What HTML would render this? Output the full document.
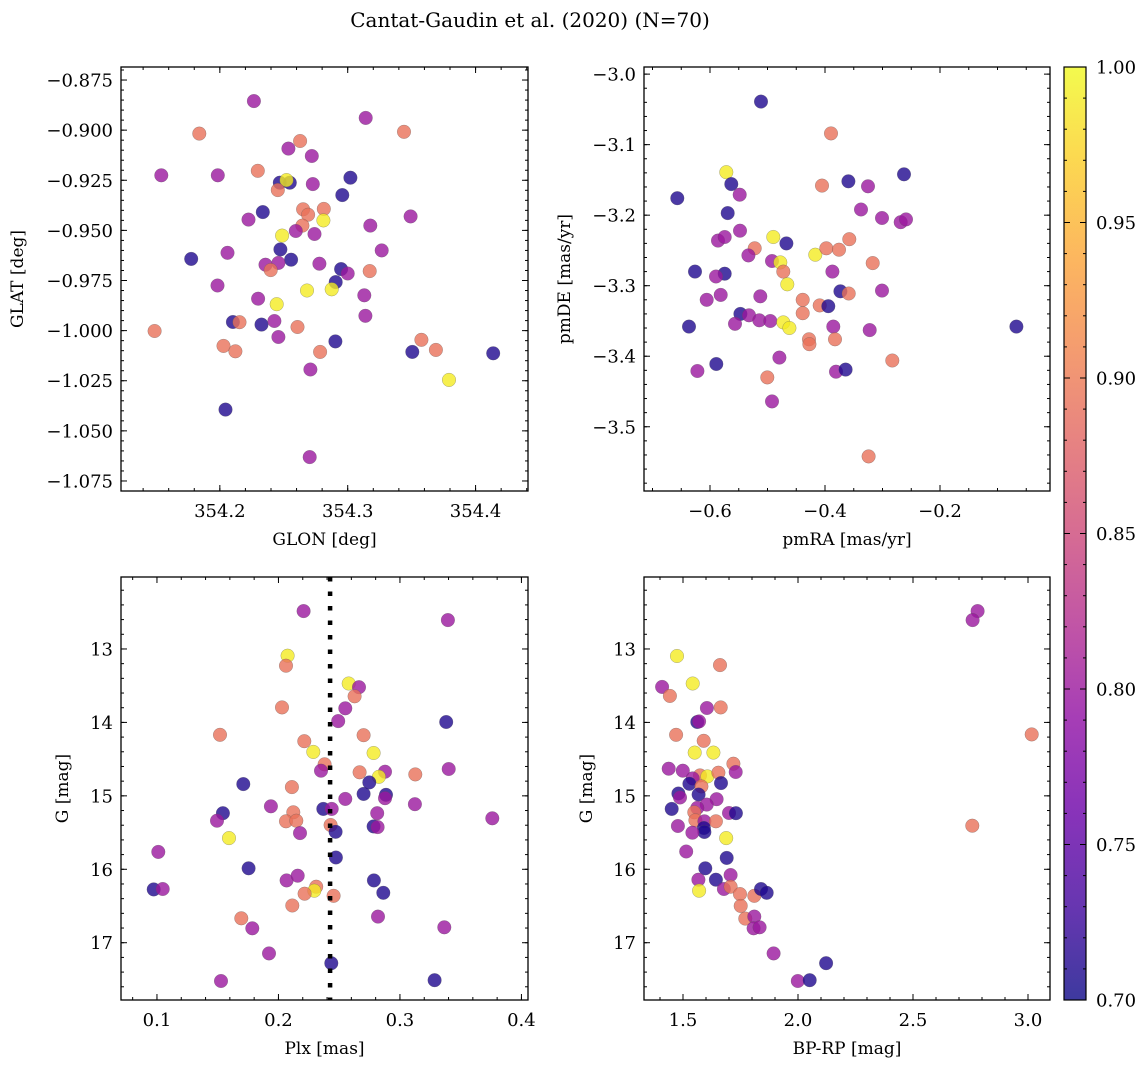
<!DOCTYPE html>
<html><head><meta charset="utf-8"><style>
html,body{margin:0;padding:0;background:#fff}
svg{display:block;font-family:"DejaVu Serif","Liberation Serif",serif}
</style></head><body>
<svg id="fig" width="1148" height="1067" viewBox="0 0 1148 1067" xmlns="http://www.w3.org/2000/svg">
<text x="530" y="27" font-size="20" text-anchor="middle">Cantat-Gaudin et al. (2020) (N=70)</text>
</svg>
<script>
// ---- data: membership probability classes ----
const N='0.71',P='0.80',S='0.892',Y='0.99';
// Panel 1: GLON / GLAT
const glon=[354.2266,354.3141,354.1839,354.344,354.2628,354.2536,354.2719,354.1542,354.1984,354.2297,354.2469,354.2547,354.2521,354.3021,354.2727,354.2453,354.2958,354.2336,354.2651,354.2813,354.2690,354.2224,354.281,354.3492,354.3177,354.2646,354.2594,354.274,354.2487,354.2474,354.3266,354.1776,354.206,354.2557,354.2357,354.2458,354.2779,354.2398,354.2948,354.3,354.3172,354.2906,354.1982,354.2682,354.2875,354.313,354.2299,354.2445,354.3138,354.2102,354.2154,354.2326,354.2427,354.149,354.2607,354.2458,354.2904,354.2029,354.2122,354.2784,354.3576,354.3505,354.369,354.4138,354.2708,354.3792,354.2044,354.2703];
const glat=[-0.8855,-0.8939,-0.9017,-0.9008,-0.9054,-0.9092,-0.9129,-0.9225,-0.9225,-0.9203,-0.9262,-0.9262,-0.9249,-0.9237,-0.9269,-0.9299,-0.9324,-0.9409,-0.9395,-0.9393,-0.9422,-0.9446,-0.945,-0.943,-0.9476,-0.9476,-0.9503,-0.9518,-0.9526,-0.9595,-0.96,-0.9642,-0.9612,-0.9646,-0.9671,-0.9662,-0.9666,-0.9698,-0.9693,-0.9715,-0.9703,-0.9758,-0.9775,-0.98,-0.9794,-0.9824,-0.9841,-0.9868,-0.9926,-0.9957,-0.9958,-0.997,-0.9952,-1.0002,-0.9982,-1.0032,-1.0054,-1.0076,-1.0103,-1.0106,-1.0046,-1.0106,-1.0096,-1.0113,-1.0194,-1.0246,-1.0394,-1.0631];
const probPos=[P,P,S,S,S,P,P,P,P,S,N,N,Y,N,P,S,N,N,S,S,S,P,Y,P,P,S,P,P,Y,N,P,N,P,N,P,P,P,S,N,P,S,N,P,Y,Y,P,P,Y,P,N,S,N,P,S,S,P,N,S,S,S,S,N,S,N,P,Y,N,P];
// Panel 2: proper motions
const pmra=[-0.5113,-0.3896,-0.5716,-0.5629,-0.6568,-0.5484,-0.4052,-0.3594,-0.3252,-0.2626,-0.5693,-0.3374,-0.3009,-0.2684,-0.2591,-0.5478,-0.5861,-0.5745,-0.4899,-0.4672,-0.5223,-0.5333,-0.4168,-0.3977,-0.3757,-0.3577,-0.3171,-0.6261,-0.4922,-0.4777,-0.4725,-0.3872,-0.5745,-0.5896,-0.4655,-0.6058,-0.5814,-0.5125,-0.4388,-0.3733,-0.3588,-0.3009,-0.4093,-0.3942,-0.4388,-0.5472,-0.5322,-0.5142,-0.4951,-0.5565,-0.6365,-0.4725,-0.462,-0.3855,-0.3223,-0.0672,-0.4278,-0.4272,-0.3826,-0.4794,-0.2829,-0.589,-0.622,-0.3809,-0.3641,-0.5003,-0.4922,-0.3241];
const pmde=[-3.039,-3.084,-3.139,-3.156,-3.176,-3.171,-3.158,-3.152,-3.159,-3.142,-3.197,-3.192,-3.204,-3.21,-3.206,-3.222,-3.236,-3.231,-3.231,-3.24,-3.247,-3.257,-3.256,-3.247,-3.249,-3.234,-3.268,-3.28,-3.265,-3.267,-3.28,-3.28,-3.283,-3.287,-3.298,-3.32,-3.313,-3.315,-3.32,-3.308,-3.311,-3.307,-3.328,-3.329,-3.339,-3.34,-3.342,-3.349,-3.35,-3.354,-3.358,-3.352,-3.36,-3.358,-3.363,-3.358,-3.376,-3.383,-3.376,-3.402,-3.406,-3.411,-3.421,-3.422,-3.419,-3.43,-3.464,-3.542];
const probPm=[N,S,Y,N,N,P,S,N,P,N,N,P,P,P,P,P,P,P,Y,N,S,P,Y,S,S,S,S,N,P,Y,S,P,N,P,Y,P,P,P,S,N,S,P,S,N,S,N,P,P,P,P,N,Y,Y,P,P,N,S,S,S,P,S,N,P,P,N,S,P,S];
// Panel 3: parallax / G
const plx=[0.2207,0.3395,0.2075,0.2062,0.2578,0.2663,0.2627,0.255,0.2029,0.2492,0.3381,0.1519,0.2701,0.2213,0.2287,0.2783,0.238,0.235,0.2668,0.2877,0.3401,0.3126,0.2827,0.2748,0.1711,0.2111,0.2701,0.2885,0.2877,0.255,0.1938,0.3123,0.2369,0.2438,0.1543,0.1494,0.2122,0.2062,0.2147,0.2813,0.376,0.2429,0.2783,0.2816,0.247,0.2177,0.1593,0.1011,0.2473,0.1754,0.2786,0.2067,0.2158,0.2311,0.2295,0.2215,0.2863,0.2454,0.0973,0.1047,0.2114,0.1694,0.2819,0.1785,0.3365,0.1922,0.2435,0.1527,0.3285];
const gPlx=[12.484,12.607,13.091,13.228,13.47,13.521,13.644,13.808,13.795,13.982,13.995,14.169,14.174,14.256,14.402,14.416,14.571,14.658,14.68,14.671,14.635,14.708,14.74,14.817,14.84,14.881,14.973,14.986,15.032,15.041,15.142,15.114,15.178,15.178,15.237,15.338,15.224,15.347,15.338,15.237,15.306,15.397,15.416,15.425,15.489,15.507,15.575,15.763,15.84,15.986,16.151,16.151,16.087,16.237,16.292,16.333,16.32,16.361,16.274,16.269,16.493,16.667,16.644,16.804,16.79,17.146,17.279,17.521,17.511];
const probPlx=[P,P,Y,S,Y,P,S,P,S,P,N,S,S,S,Y,Y,S,P,S,P,P,S,Y,N,N,S,N,N,P,P,P,P,N,P,N,P,S,S,S,P,P,S,N,P,N,P,Y,P,N,N,N,P,P,S,Y,S,N,S,N,P,S,S,P,P,P,P,N,P,N];
const plxLine=[0.2425];
// Panel 4: CMD
const bprp=[2.781,2.759,1.474,1.661,1.409,1.542,1.443,1.604,1.664,1.562,1.57,1.47,3.016,1.59,1.551,1.632,1.719,1.438,1.499,1.729,1.574,1.606,1.654,1.542,1.528,1.665,1.58,1.48,1.568,1.487,1.646,1.451,1.603,1.562,1.549,1.7,1.73,1.554,1.593,1.643,1.478,1.591,1.593,1.541,2.758,1.688,1.514,1.69,1.597,1.707,1.567,1.643,1.57,1.678,1.707,1.748,1.81,1.839,1.864,1.751,1.771,1.81,1.807,1.833,1.894,2.122,1.999,2.051];
const gCmd=[12.484,12.607,13.096,13.219,13.516,13.47,13.639,13.804,13.795,13.995,13.986,14.169,14.164,14.251,14.411,14.411,14.562,14.63,14.658,14.676,14.721,14.735,14.685,14.763,14.836,14.826,14.872,14.968,14.982,15.023,15.046,15.178,15.119,15.164,15.224,15.233,15.237,15.333,15.347,15.347,15.411,15.438,15.493,15.502,15.406,15.575,15.758,15.845,15.986,16.078,16.142,16.142,16.292,16.269,16.237,16.338,16.361,16.269,16.32,16.498,16.671,16.644,16.804,16.79,17.146,17.279,17.521,17.511];
const probCmd=[P,P,Y,S,P,Y,S,P,S,N,P,S,S,S,Y,Y,S,P,P,P,S,Y,S,P,N,N,S,N,N,P,P,N,P,P,S,P,N,S,P,S,P,N,N,P,S,Y,P,N,N,P,P,N,Y,P,S,S,S,N,N,S,S,P,P,P,P,N,P,N];
const cbTicks=[0.70,0.75,0.80,0.85,0.90,0.95,1.00];

// ---- rendering ----
const NS='http://www.w3.org/2000/svg';
const svg=document.getElementById('fig');
function mk(tag,attrs,parent){const e=document.createElementNS(NS,tag);for(const k in attrs)e.setAttribute(k,attrs[k]);(parent||svg).appendChild(e);return e;}
const stops=['#0d0887','#41049d','#6a00a8','#8f0da4','#b12a90','#cc4778','#e16462','#f2844b','#fca636','#fcce25','#f0f921'];
function hex(h){return [1,3,5].map(i=>parseInt(h.substr(i,2),16));}
function plasma(t){t=Math.max(0,Math.min(1,t));const f=t*10,i=Math.min(9,Math.floor(f)),u=f-i;const a=hex(stops[i]),b=hex(stops[i+1]);return 'rgb('+a.map((v,k)=>Math.round(v+(b[k]-v)*u)).join(',')+')';}
function fmt(v,d){return (v<0?'\u2212':'')+Math.abs(v).toFixed(d);}

function panel(cfg){
  const {name,x0,x1,y0,y1,xmin,xmax,ymin,ymax,invY,xs,ys,cs,xMaj,xMin,yMaj,yMin,xd,yd,xlabel,ylabel,ylabX}=cfg;
  const g=mk('g',{});
  
  
  const sx=v=>x0+(v-xmin)/(xmax-xmin)*(x1-x0);
  const sy=v=>invY? y0+(v-ymin)/(ymax-ymin)*(y1-y0) : y1-(v-ymin)/(ymax-ymin)*(y1-y0);
  const clip='clip-'+name;
  const cp=mk('clipPath',{id:clip},g);mk('rect',{x:x0,y:y0,width:x1-x0,height:y1-y0},cp);
  const pts=mk('g',{'clip-path':'url(#'+clip+')'},g);
  
  
  for(let i=0;i<xs.length;i++){
    const c=mk('circle',{cx:sx(xs[i]).toFixed(1),cy:sy(ys[i]).toFixed(1),r:6.8,fill:plasma((+cs[i]-0.7)/0.3),'fill-opacity':0.8,stroke:'#555','stroke-opacity':0.5,'stroke-width':0.5},pts);
    
    
  }
  if(cfg.vline){for(const v of cfg.vline){const l=mk('line',{x1:sx(v),x2:sx(v),y1:y0,y2:y1,stroke:'#000','stroke-width':4.5,'stroke-dasharray':'4.5,10'},pts);}}
  const fr=mk('rect',{x:x0,y:y0,width:x1-x0,height:y1-y0,fill:'none',stroke:'#000','stroke-width':1.3},g);
  
  
  const tk=mk('g',{stroke:'#000','stroke-width':1},g);
  const rng=(a,b,s)=>{const r=[];const st=Math.ceil(a/s-1e-6);for(let k=st;k*s<=b+1e-9;k++)r.push(k*s);return r;};
  rng(xmin,xmax,xMin).forEach(v=>{const x=sx(v);mk('line',{x1:x,x2:x,y1:y1,y2:y1-3},tk);mk('line',{x1:x,x2:x,y1:y0,y2:y0+3},tk);});
  rng(ymin,ymax,yMin).forEach(v=>{const y=sy(v);mk('line',{x1:x0,x2:x0+3,y1:y,y2:y},tk);mk('line',{x1:x1,x2:x1-3,y1:y,y2:y},tk);});
  rng(xmin,xmax,xMaj).forEach(v=>{const x=sx(v);mk('line',{x1:x,x2:x,y1:y1,y2:y1-6},tk);mk('line',{x1:x,x2:x,y1:y0,y2:y0+6},tk);
    const t=mk('text',{x:x,y:y1+26,'font-size':18,'text-anchor':'middle'},g);t.textContent=fmt(v,xd);});
  rng(ymin,ymax,yMaj).forEach(v=>{const y=sy(v);mk('line',{x1:x0,x2:x0+6,y1:y,y2:y},tk);mk('line',{x1:x1,x2:x1-6,y1:y,y2:y},tk);
    const t=mk('text',{x:x0-8,y:y+6.5,'font-size':18,'text-anchor':'end'},g);t.textContent=fmt(v,yd);});
  const xl=mk('text',{x:(x0+x1)/2,y:y1+54,'font-size':17,'text-anchor':'middle'},g);xl.textContent=xlabel;
  
  const yc=(y0+y1)/2;
  const yl=mk('text',{x:ylabX,y:yc,'font-size':17,'text-anchor':'middle',transform:'rotate(-90 '+ylabX+' '+yc+')'},g);yl.textContent=ylabel;
  
}
panel({name:'position-panel',x0:121,x1:528,y0:67,y1:491,xmin:354.1227,xmax:354.441,ymin:-1.0800,ymax:-0.8685,xs:glon,ys:glat,cs:probPos,xMaj:0.1,xMin:0.02,yMaj:0.025,yMin:0.005,xd:1,yd:3,xlabel:'GLON [deg]',ylabel:'GLAT [deg]',ylabX:23});
panel({name:'proper-motion-panel',x0:644,x1:1050,y0:67,y1:491,xmin:-0.7148,xmax:-0.0087,ymin:-3.5911,ymax:-2.9899,xs:pmra,ys:pmde,cs:probPm,xMaj:0.2,xMin:0.05,yMaj:0.1,yMin:0.02,xd:1,yd:1,xlabel:'pmRA [mas/yr]',ylabel:'pmDE [mas/yr]',ylabX:570});
panel({name:'parallax-panel',x0:121,x1:528,y0:577,y1:1000,xmin:0.0704,xmax:0.4054,ymin:12.02,ymax:17.78,invY:true,xs:plx,ys:gPlx,cs:probPlx,xMaj:0.1,xMin:0.02,yMaj:1,yMin:0.2,xd:1,yd:0,xlabel:'Plx [mas]',ylabel:'G [mag]',ylabX:68,vline:plxLine});
panel({name:'cmd-panel',x0:644,x1:1050,y0:577,y1:1000,xmin:1.3304,xmax:3.0957,ymin:12.02,ymax:17.78,invY:true,xs:bprp,ys:gCmd,cs:probCmd,xMaj:0.5,xMin:0.1,yMaj:1,yMin:0.2,xd:1,yd:0,xlabel:'BP-RP [mag]',ylabel:'G [mag]',ylabX:592});

// colorbar
const cb=mk('g',{});


const defs=mk('defs',{},cb);
const lg=mk('linearGradient',{id:'cbg',x1:0,y1:1,x2:0,y2:0},defs);
stops.forEach((s,i)=>mk('stop',{offset:(i/10),'stop-color':s,'stop-opacity':0.8},lg));
const cbx0=1064,cbx1=1086,cby0=67,cby1=1000;
mk('rect',{x:cbx0,y:cby0,width:cbx1-cbx0,height:cby1-cby0,fill:'url(#cbg)',stroke:'#000','stroke-width':1.2},cb);
const cy=v=>cby1-(v-0.7)/0.3*(cby1-cby0);
for(let k=0;k<=30;k++){const v=0.7+k*0.01;const y=cy(v);const maj=k%5===0;mk('line',{x1:cbx1,x2:cbx1-(maj?6:3),y1:y,y2:y,stroke:'#000','stroke-width':1},cb);mk('line',{x1:cbx0,x2:cbx0+(maj?6:3),y1:y,y2:y,stroke:'#000','stroke-width':1},cb);}
cbTicks.forEach(v=>{const t=mk('text',{x:1096,y:cy(v)+6.5,'font-size':18},cb);t.textContent=v.toFixed(2);});
</script>
</body></html>
